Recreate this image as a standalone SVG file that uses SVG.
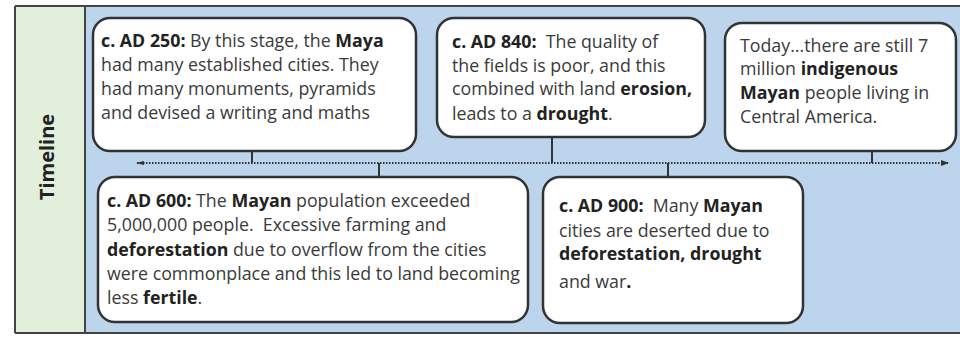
<svg xmlns="http://www.w3.org/2000/svg" width="960" height="337" viewBox="0 0 960 337">
<style>
.t{font-family:"Open Sans","Liberation Sans",sans-serif;font-size:17.8px;fill:#3a3a3a;white-space:pre}
.b{font-weight:bold;fill:#222}
.box{fill:#fff;stroke:#333;stroke-width:2.5}
.con{stroke:#333;stroke-width:2;fill:none}
</style>
<defs>
<marker id="ah" viewBox="0 0 8 8" refX="7" refY="4" markerWidth="8" markerHeight="8" markerUnits="userSpaceOnUse" orient="auto"><path d="M0,1 L8,4 L0,7 Z" fill="#333"/></marker>
<marker id="at" viewBox="0 0 8 8" refX="1" refY="4" markerWidth="8" markerHeight="8" markerUnits="userSpaceOnUse" orient="auto"><path d="M8,2 L0,4 L8,6 Z" fill="#333"/></marker>
</defs>
<rect x="0" y="0" width="960" height="337" fill="#fff"/>
<g id="frame">
<rect x="15" y="6" width="70" height="327" fill="#e2efda"/>
<rect x="85" y="6" width="877" height="327" fill="#bdd5ec"/>
<path d="M15,6 H960 M15,333 H960 M15,6 V333 M85,6 V333" stroke="#444" stroke-width="2" fill="none"/>
<text x="0" y="0" transform="translate(54,157) rotate(-90)" text-anchor="middle" style="font-family:'Open Sans','Liberation Sans',sans-serif;font-size:20px;font-weight:bold;fill:#222">Timeline</text>
</g>
<g id="connectors">
<line class="con" x1="137" y1="163" x2="948" y2="163" stroke-dasharray="1.5 1.5" marker-end="url(#ah)" marker-start="url(#at)"/>
<line class="con" x1="252" y1="151" x2="252" y2="163"/>
<line class="con" x1="552" y1="137" x2="552" y2="163"/>
<line class="con" x1="872" y1="151" x2="872" y2="163"/>
<line class="con" x1="379" y1="163" x2="379" y2="177"/>
<line class="con" x1="668" y1="163" x2="668" y2="177"/>
</g>
<g id="ad250">
<rect class="box" x="93" y="18" width="323" height="133" rx="17"/>
<text class="t" x="101" y="47"><tspan class="b">c. AD 250:</tspan> By this stage, the <tspan class="b">Maya</tspan></text>
<text class="t" x="101" y="71">had many established cities. They</text>
<text class="t" x="101" y="95">had many monuments, pyramids</text>
<text class="t" x="101" y="119">and devised a writing and maths</text>
</g>
<g id="ad840">
<rect class="box" x="437" y="18" width="268" height="119" rx="17"/>
<text class="t" x="452" y="48"><tspan class="b">c. AD 840:</tspan>  The quality of</text>
<text class="t" x="452" y="72">the fields is poor, and this</text>
<text class="t" x="452" y="95">combined with land <tspan class="b">erosion,</tspan></text>
<text class="t" x="452" y="120">leads to a <tspan class="b">drought</tspan>.</text>
</g>
<g id="today">
<rect class="box" x="725" y="23" width="231" height="128" rx="17"/>
<text class="t" x="740" y="52">Today...there are still 7</text>
<text class="t" x="740" y="75">million <tspan class="b">indigenous</tspan></text>
<text class="t" x="740" y="99"><tspan class="b">Mayan</tspan> people living in</text>
<text class="t" x="740" y="123">Central America.</text>
</g>
<g id="ad600">
<rect class="box" x="98" y="177" width="430" height="145" rx="17"/>
<text class="t" x="107" y="207"><tspan class="b">c. AD 600:</tspan> The <tspan class="b">Mayan</tspan> population exceeded</text>
<text class="t" x="107" y="231">5,000,000 people.  Excessive farming and</text>
<text class="t" x="107" y="256"><tspan class="b">deforestation</tspan> due to overflow from the cities</text>
<text class="t" x="107" y="280">were commonplace and this led to land becoming</text>
<text class="t" x="107" y="304">less <tspan class="b">fertile</tspan>.</text>
</g>
<g id="ad900">
<rect class="box" x="543" y="177" width="260" height="146" rx="17"/>
<text class="t" x="559" y="212"><tspan class="b">c. AD 900:</tspan>  Many <tspan class="b">Mayan</tspan></text>
<text class="t" x="559" y="237">cities are deserted due to</text>
<text class="t" x="559" y="260"><tspan class="b">deforestation, drought</tspan></text>
<text class="t" x="559" y="288">and war<tspan class="b">.</tspan></text>
</g>
</svg>
